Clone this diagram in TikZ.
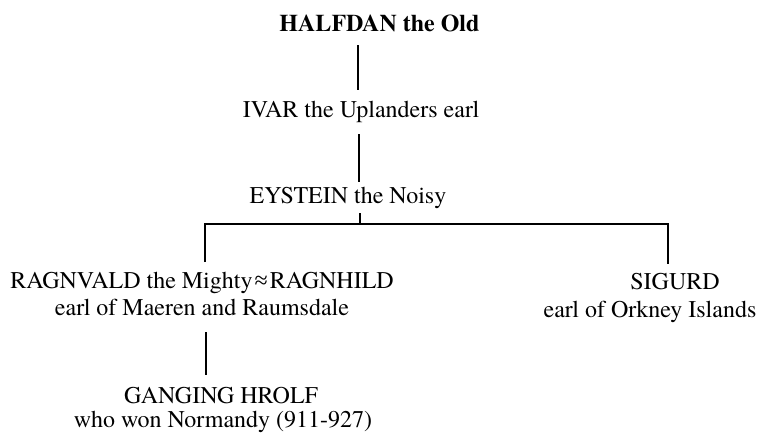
\documentclass[tikz,border=0pt]{standalone}
\usepackage{fontspec}
\setmainfont{texgyretermes}[Extension=.otf,UprightFont=*-regular,BoldFont=*-bold,ItalicFont=*-italic,BoldItalicFont=*-bolditalic]
\newfontfamily\symfont{Liberation Serif}
\begin{document}
\begin{tikzpicture}[x=1pt,y=-1pt,
  person/.style={inner sep=0pt,anchor=base,font=\fontsize{24}{28}\selectfont},
  link/.style={line width=1.6pt}]
\useasboundingbox (0,0) rectangle (759,437);
% people
\node[person,font=\fontsize{24}{28}\selectfont\bfseries] (halfdan) at (379.5,31) {HALFDAN the Old};
\node[person] (ivar) at (361,117) {IVAR the Uplanders earl};
\node[person] (eystein) at (348,203) {EYSTEIN the Noisy};
\node[person] (ragnvald) at (202,288) {RAGNVALD the Mighty\hspace{2pt}{\symfont ≈}\hspace{2pt}RAGNHILD};
\node[person] (ragnvaldT) at (202,315) {earl of Maeren and Raumsdale};
\node[person] (sigurd) at (675,289) {SIGURD};
\node[person] (sigurdT) at (650,317) {earl of Orkney Islands};
\node[person] (hrolf) at (221,403) {GANGING HROLF};
\node[person] (hrolfT) at (223,427) {who won Normandy (911-927)};
% connector ends
\coordinate (h1) at (358,45);  \coordinate (h2) at (358,90);
\coordinate (i1) at (359,134); \coordinate (i2) at (359,182);
\coordinate (e1) at (360,213); \coordinate (bar) at (360,224);
\coordinate (barL) at (205,224); \coordinate (barR) at (668,224);
\coordinate (rTop) at (205,262); \coordinate (sTop) at (668,264);
\coordinate (g1) at (206,332); \coordinate (g2) at (206,375);
% connectors
\draw[link] (h1) -- (h2);
\draw[link] (i1) -- (i2);
\draw[link] (e1) -- (bar);
\draw[link] (rTop) -- (barL) -- (barR) -- (sTop);
\draw[link] (g1) -- (g2);
\end{tikzpicture}
\end{document}
